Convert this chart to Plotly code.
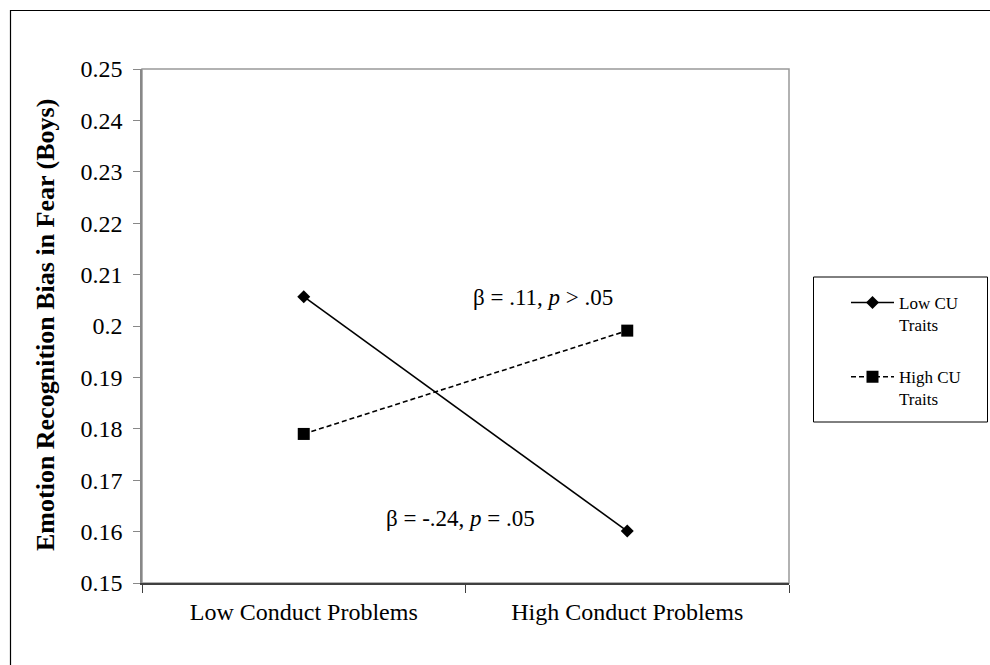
import plotly.graph_objects as go

categories = ["Low Conduct Problems", "High Conduct Problems"]
low_cu = [0.2057, 0.1601]
high_cu = [0.1790, 0.1991]
series_names = ["Low CU<br>Traits", "High CU<br>Traits"]
y_tickvals = [0.15, 0.16, 0.17, 0.18, 0.19, 0.20, 0.21, 0.22, 0.23, 0.24, 0.25]
y_ticktext = ["0.15", "0.16", "0.17", "0.18", "0.19", "0.2", "0.21", "0.22", "0.23", "0.24", "0.25"]
y_title = "Emotion Recognition Bias in Fear (Boys)"
note_high = "β = .11, <i>p</i> > .05"
note_low = "β = -.24, <i>p</i> = .05"

FONT = "Liberation Serif, Times New Roman, serif"

L, R, T, B = 142, 201, 69, 82
W, H = 990, 665
pw, ph = W - L - R, H - T - B

def px(x):
    return (x - L) / pw

def py(y):
    return (H - B - y) / ph

fig = go.Figure()
fig.add_trace(go.Scatter(
    x=categories, y=low_cu, name=series_names[0], mode="lines+markers",
    legendgroup="low",
    line=dict(color="black", width=1.6),
    marker=dict(symbol="diamond", size=10, color="black"),
))
fig.add_trace(go.Scatter(
    x=categories, y=high_cu, name=series_names[1], mode="lines+markers",
    legendgroup="high",
    line=dict(color="black", width=1.6, dash="5px,3px"),
    marker=dict(symbol="square", size=12, color="black"),
))

fig.update_layout(
    width=W, height=H,
    margin=dict(l=L, r=R, t=T, b=B, autoexpand=False),
    paper_bgcolor="white", plot_bgcolor="white",
    font=dict(family=FONT, color="black", size=24),
    showlegend=True,
    legend=dict(
        x=px(846), y=py(285), xanchor="left", yanchor="top",
        bgcolor="rgba(0,0,0,0)", borderwidth=0,
        font=dict(family=FONT, size=17, color="black"),
        valign="top", tracegroupgap=27, itemwidth=43,
    ),
    xaxis=dict(
        type="category", range=[-0.5, 1.5], showgrid=False, zeroline=False,
        showline=True, linecolor="#404040", linewidth=1.5,
        ticks="outside", tickson="boundaries", ticklen=8, tickcolor="#404040",
        tickwidth=1.2, tickfont=dict(family=FONT, size=24, color="black"),
        ticklabelstandoff=6, automargin=False,
    ),
    yaxis=dict(
        range=[0.15, 0.25], showgrid=False, zeroline=False,
        showline=True, linecolor="#888888", linewidth=1.5,
        ticks="outside", ticklen=7, tickcolor="#888888", tickwidth=1.2,
        tickvals=y_tickvals, ticktext=y_ticktext,
        tickfont=dict(family=FONT, size=24, color="black"),
        ticklabelstandoff=6, automargin=False,
    ),
    shapes=[
        dict(type="rect", xref="paper", yref="paper", x0=0, x1=1, y0=0, y1=1,
             line=dict(color="#999999", width=1.5), layer="below"),
        dict(type="rect", xref="paper", yref="paper",
             x0=px(813.5), x1=px(987.5), y0=py(422), y1=py(277),
             line=dict(color="black", width=1)),
        dict(type="rect", xref="paper", yref="paper",
             x0=px(10.5), x1=px(1010), y0=py(720), y1=py(10.5),
             line=dict(color="black", width=1.2)),
    ],
    annotations=[
        dict(text=y_title, xref="paper", yref="paper", x=px(45), y=py(325),
             xanchor="center", yanchor="middle",
             textangle=-90, showarrow=False,
             font=dict(family=FONT, size=26, color="black", weight="bold")),
        dict(text=note_high, xref="x", yref="paper", x=1, y=py(297),
             xshift=-84, showarrow=False, font=dict(family=FONT, size=23)),
        dict(text=note_low, xref="x", yref="paper", x=0.5, y=py(533),
             xshift=-5, showarrow=False, font=dict(family=FONT, size=23)),
    ],
)

fig.write_html("out.html", config={"displayModeBar": False},
               post_script="document.body.style.margin='0';document.body.style.overflow='hidden';")
